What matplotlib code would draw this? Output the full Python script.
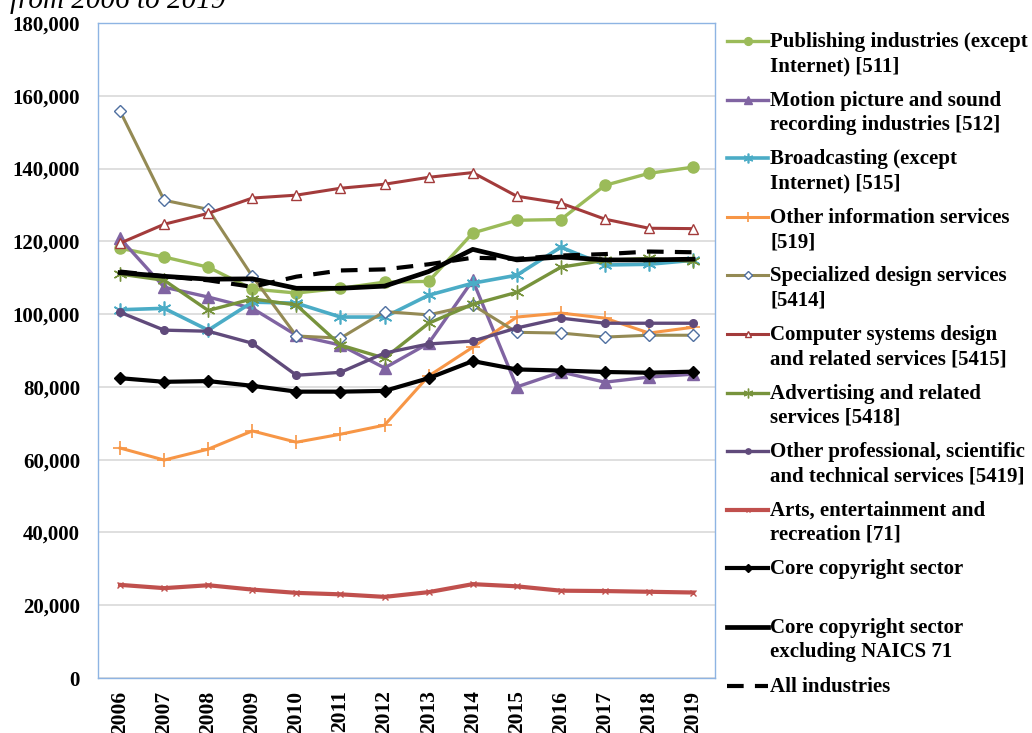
import matplotlib
matplotlib.use("Agg")
import matplotlib.pyplot as plt
from matplotlib.lines import Line2D
import numpy as np

years = ["2006", "2007", "2008", "2009", "2010", "2011", "2012", "2013",
         "2014", "2015", "2016", "2017", "2018", "2019"]

publishing = [118100, 115700, 112900, 106900, 105800, 107100, 108800, 109000,
              122300, 125800, 126000, 135400, 138700, 140400]
motion_picture = [120800, 107400, 104700, 101600, 94200, 91500, 85200, 92000,
                  109300, 80000, 84100, 81300, 82700, 83500]
broadcasting = [101200, 101600, 95600, 103300, 103000, 99200, 99200, 105200,
                108500, 110700, 118400, 113500, 113700, 114800]
other_info = [63200, 59900, 62900, 67900, 64800, 67000, 69500, 83000,
              90900, 99200, 100300, 98900, 94800, 96400]
specialized_design = [155800, 131300, 128800, 110400, 94000, 93400, 100700, 99800,
                      102500, 95000, 94800, 93700, 94200, 94200]
computer_systems = [119500, 124700, 127700, 131900, 132700, 134600, 135700, 137600,
                    138900, 132400, 130500, 126100, 123600, 123500]
advertising = [111000, 109300, 101000, 104200, 102500, 91500, 87900, 97500,
               102700, 106000, 112900, 114800, 115300, 114500]
other_professional = [100500, 95600, 95300, 92000, 83200, 84000, 89300, 91800,
                      92600, 96200, 98900, 97500, 97500, 97500]
arts = [25600, 24700, 25500, 24300, 23400, 23000, 22300, 23600,
        25800, 25200, 24000, 23900, 23700, 23500]
core_copyright = [82400, 81400, 81600, 80300, 78700, 78700, 78900, 82400,
                  87100, 84800, 84500, 84100, 83900, 84200]
core_excl71 = [111400, 110400, 109600, 109700, 107100, 107100, 107700, 111700,
               117800, 114900, 115700, 114900, 114900, 115100]
all_industries = [111700, 110400, 109300, 107500, 110300, 112000, 112300, 113700,
                  115500, 115200, 116100, 116500, 117200, 117000]

labels = [
    "Publishing industries (except\nInternet) [511]",
    "Motion picture and sound\nrecording industries [512]",
    "Broadcasting (except\nInternet) [515]",
    "Other information services\n[519]",
    "Specialized design services\n[5414]",
    "Computer systems design\nand related services [5415]",
    "Advertising and related\nservices [5418]",
    "Other professional, scientific\nand technical services [5419]",
    "Arts, entertainment and\nrecreation [71]",
    "Core copyright sector",
    "Core copyright sector\nexcluding NAICS 71",
    "All industries",
]

asterisk = (6, 2, 0)
styles = [
    dict(color="#9BBB59", lw=2.4, marker="o", ms=8, mfc="#9BBB59", mec="#9BBB59"),
    dict(color="#8064A2", lw=2.4, marker="^", ms=8, mfc="#8064A2", mec="#8064A2"),
    dict(color="#4BACC6", lw=2.6, marker=asterisk, ms=10, mfc="#4BACC6", mec="#4BACC6", mew=1.2),
    dict(color="#F79646", lw=2.2, marker="+", ms=10, mfc="#F79646", mec="#F79646", mew=1.2),
    dict(color="#948A54", lw=2.2, marker="D", ms=6.5, mfc="white", mec="#4F6FA0", mew=1.0),
    dict(color="#A33B3B", lw=2.2, marker="^", ms=7, mfc="white", mec="#A33B3B", mew=1.0),
    dict(color="#77933C", lw=2.4, marker=asterisk, ms=10, mfc="#77933C", mec="#77933C", mew=1.0),
    dict(color="#604A7B", lw=2.4, marker="o", ms=5.5, mfc="#604A7B", mec="#604A7B"),
    dict(color="#C0504D", lw=3.0, marker="x", ms=5, mfc="#C0504D", mec="#C0504D", mew=1.0),
    dict(color="black", lw=3.0, marker="D", ms=6.5, mfc="black", mec="black"),
    dict(color="black", lw=3.4, marker=None),
    dict(color="black", lw=3.0, marker=None, ls=(0, (4, 2.7))),
]
series = [publishing, motion_picture, broadcasting, other_info, specialized_design,
          computer_systems, advertising, other_professional, arts, core_copyright,
          core_excl71, all_industries]

fig = plt.figure(figsize=(10.32, 7.33), dpi=100)
ax = fig.add_axes([0.095, 0.075, 0.598, 0.8936])

x = np.arange(len(years))
order = [11, 4, 5, 0, 1, 2, 3, 6, 7, 8, 10, 9]
for i in order:
    st = dict(styles[i])
    ax.plot(x, series[i], zorder=3 + i * 0.1, solid_joinstyle="round", **st)

ax.set_xlim(-0.5, 13.5)
ax.set_ylim(0, 180000)
ax.set_yticks(np.arange(0, 180001, 20000))
ax.set_yticklabels(["0" if v == 0 else f"{v:,}" for v in range(0, 180001, 20000)])
ax.set_xticks(x)
ax.set_xticklabels(years, rotation=90)
ax.yaxis.grid(True, color="#D9D9D9", lw=1.2)
ax.set_axisbelow(True)
for sp in ax.spines.values():
    sp.set_color("#8EB4E3")
    sp.set_linewidth(1.0)
ax.tick_params(axis="both", length=0)
ax.tick_params(axis="y", pad=13)
ax.tick_params(axis="x", pad=9)
for lab in ax.get_yticklabels():
    lab.set_fontfamily("Liberation Serif")
    lab.set_fontweight("bold")
    lab.set_fontsize(15)
for lab in ax.get_xticklabels():
    lab.set_fontfamily("Liberation Serif")
    lab.set_fontweight("bold")
    lab.set_fontsize(15.5)

# title fragment (cut off at top, as in the source)
fig.text(0.01, 0.989, "from 2006 to 2019", fontfamily="Liberation Serif",
         fontstyle="italic", fontsize=21, va="baseline", ha="left")

# legend drawn manually so the handle aligns with the first text line
W, H = 1032.0, 733.0
for i, lab in enumerate(labels):
    yc = 41 + 58.6 * i
    st = dict(styles[i])
    lw = st.pop("lw")
    color = st.pop("color")
    ls = st.pop("ls", "-")
    marker = st.pop("marker")
    ln = Line2D([727 / W, 768 / W], [1 - yc / H, 1 - yc / H], transform=fig.transFigure,
                color=color, lw=lw, ls=ls)
    fig.add_artist(ln)
    if marker is not None:
        st["ms"] = st.get("ms", 6) * 0.7
        mk = Line2D([747.5 / W], [1 - yc / H], transform=fig.transFigure,
                    marker=marker, ls="none", **st)
        fig.add_artist(mk)
    fig.text(770 / W, 1 - (yc - 9) / H, lab, fontfamily="Liberation Serif",
             fontweight="bold", fontsize=15, va="top", ha="left", linespacing=1.28)

fig.savefig("out.png", dpi=100)
